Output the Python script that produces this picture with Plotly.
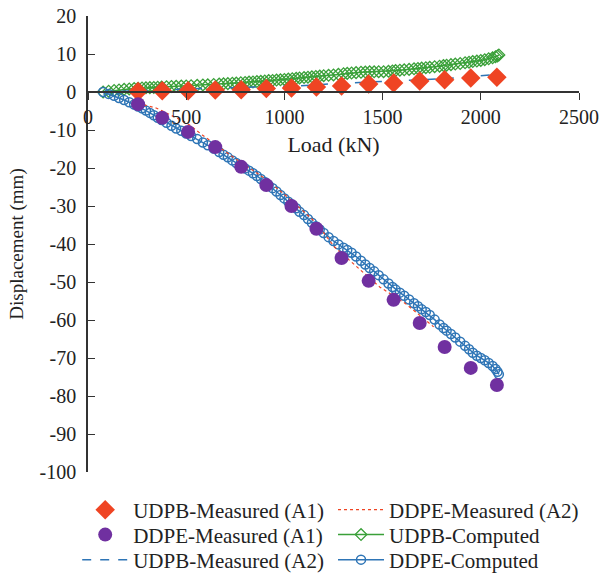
import plotly.graph_objects as go

# ---- data ----
meas_load = [255, 378, 510, 648, 780, 908, 1036, 1163, 1291, 1429, 1556, 1689, 1816, 1949, 2082]
udpb_a1 = [0.1, 0.3, 0.3, 0.5, 0.6, 0.9, 1.05, 1.3, 1.6, 2.1, 2.4, 2.9, 3.2, 3.7, 3.9]
ddpe_a1 = [-3.2, -6.8, -10.5, -14.5, -19.7, -24.5, -30.0, -36.0, -43.7, -49.7, -54.7, -60.8, -67.1, -72.6, -77.1]

udpb_a2_load = [77, 255, 510, 780, 1077, 1291, 1556, 1760, 1816, 2056, 2082]
udpb_a2 = [0.0, 0.4, 0.8, 1.2, 1.6, 2.3, 2.9, 3.2, 3.5, 4.5, 4.6]

ddpe_a2_load = [255, 347, 505, 582, 735, 908, 1036, 1163, 1255, 1357, 1485, 1617, 1760]
ddpe_a2 = [-3.0, -4.2, -8.2, -11.3, -17.0, -23.0, -28.5, -34.5, -40.8, -45.5, -51.3, -55.7, -61.8]

comp_load = [77, 105, 133, 158, 184, 210, 235, 255, 275, 295, 315, 335, 355, 375, 400, 425, 449, 475,
             500, 525, 556, 585, 610, 640, 668, 690, 712, 735, 755, 778, 800, 820, 840, 860, 880, 900,
             920, 940, 960, 980, 1000, 1020, 1040, 1060, 1077, 1100, 1120, 1140, 1160, 1180, 1200,
             1225, 1250, 1275, 1301, 1320, 1342, 1365, 1390, 1412, 1434, 1457, 1480, 1505, 1530,
             1550, 1566, 1588, 1610, 1635, 1660, 1680, 1699, 1720, 1740, 1765, 1790, 1810, 1826,
             1848, 1870, 1895, 1920, 1940, 1959, 1980, 2000, 2020, 2040, 2060, 2075, 2085, 2092]
ddpe_comp = [0.0, -0.5, -1.0, -1.6, -2.1, -2.7, -3.3, -3.8, -4.3, -4.9, -5.5, -6.1, -6.8, -7.4, -8.1,
             -8.9, -9.6, -10.2, -10.9, -11.6, -12.4, -13.3, -14.0, -14.9, -15.8, -16.5, -17.2, -18.0,
             -18.7, -19.4, -20.1, -20.7, -21.4, -22.1, -22.9, -23.7, -24.5, -25.3, -26.2, -27.1, -28.0,
             -28.9, -29.7, -30.6, -31.5, -32.4, -33.4, -34.4, -35.3, -36.2, -37.1, -38.2, -39.2, -40.1,
             -41.0, -41.6, -42.3, -43.3, -44.4, -45.4, -46.3, -47.2, -48.2, -49.3, -50.4, -51.3, -52.0,
             -52.8, -53.6, -54.6, -55.6, -56.4, -57.2, -57.9, -58.7, -59.9, -61.2, -62.1, -62.8, -63.7,
             -64.6, -65.7, -66.8, -67.7, -68.6, -69.4, -70.0, -70.6, -71.3, -72.1, -72.9, -73.6, -74.3]
udpb_comp = [0.0, 0.2, 0.4, 0.55, 0.7, 0.8, 0.9, 1.0, 1.05, 1.1, 1.15, 1.2, 1.25, 1.3, 1.4, 1.45, 1.5,
             1.55, 1.6, 1.65, 1.75, 1.85, 1.9, 2.0, 2.1, 2.15, 2.2, 2.3, 2.35, 2.45, 2.5, 2.6, 2.65,
             2.75, 2.8, 2.9, 3.0, 3.05, 3.15, 3.2, 3.3, 3.4, 3.5, 3.6, 3.7, 3.8, 3.9, 4.0, 4.1, 4.2,
             4.3, 4.4, 4.5, 4.65, 4.8, 4.9, 5.0, 5.1, 5.2, 5.25, 5.3, 5.32, 5.34, 5.35, 5.45, 5.55,
             5.65, 5.75, 5.85, 5.95, 6.1, 6.2, 6.3, 6.4, 6.5, 6.65, 6.8, 6.95, 7.05, 7.2, 7.35, 7.5,
             7.7, 7.85, 8.0, 8.15, 8.3, 8.5, 8.75, 9.0, 9.3, 9.5, 9.75]

x_ticks = [0, 500, 1000, 1500, 2000, 2500]
x_labels = ["0", "500", "1000", "1500", "2000", "2500"]
y_ticks = [20, 10, 0, -10, -20, -30, -40, -50, -60, -70, -80, -90, -100]
y_labels = ["20", "10", "0", "-10", "-20", "-30", "-40", "-50", "-60", "-70", "-80", "-90", "-100"]

RED = "#EF4423"
PURPLE = "#7030A0"
BLUE = "#2E75B6"
GREEN = "#3AA039"
FONT = "Liberation Serif"
TXT = "#222222"

fig = go.Figure()
fig.add_trace(go.Scatter(x=comp_load, y=udpb_comp, mode="lines+markers", name="UDPB-Computed",
                         line=dict(color=GREEN, width=1.5),
                         marker=dict(symbol="diamond-open", size=9, color=GREEN, line=dict(width=1.3)),
                         legend="legend5"))
fig.add_trace(go.Scatter(x=comp_load, y=ddpe_comp, mode="lines+markers", name="DDPE-Computed",
                         line=dict(color=BLUE, width=1.5),
                         marker=dict(symbol="circle-open", size=9, color=BLUE, line=dict(width=1.5)),
                         legend="legend6"))
fig.add_trace(go.Scatter(x=udpb_a2_load, y=udpb_a2, mode="lines", name="UDPB-Measured (A2)",
                         line=dict(color=BLUE, width=1.5, dash="dash"), legend="legend3"))
fig.add_trace(go.Scatter(x=ddpe_a2_load, y=ddpe_a2, mode="lines", name="DDPE-Measured (A2)",
                         line=dict(color=RED, width=1.2, dash="dot"), legend="legend4"))
fig.add_trace(go.Scatter(x=meas_load, y=udpb_a1, mode="markers", name="UDPB-Measured (A1)",
                         marker=dict(symbol="diamond", size=15, color=RED), legend="legend"))
fig.add_trace(go.Scatter(x=meas_load, y=ddpe_a1, mode="markers", name="DDPE-Measured (A1)",
                         marker=dict(symbol="circle", size=14, color=PURPLE), legend="legend2"))


def leg(x, y):
    return dict(orientation="v", xanchor="left", yanchor="middle", x=x, y=y,
                itemwidth=46, bgcolor="rgba(0,0,0,0)", borderwidth=0,
                font=dict(family=FONT, size=21, color=TXT))


col1, col2 = -0.022, 0.499
row1, row2, row3 = -0.0833, -0.138, -0.193

fig.update_layout(
    width=600, height=578,
    margin=dict(l=88, r=21, t=16, b=106, autoexpand=False),
    paper_bgcolor="white", plot_bgcolor="white",
    font=dict(family=FONT, size=20, color=TXT),
    showlegend=True,
    legend=leg(col1, row1), legend2=leg(col1, row2), legend3=leg(col1, row3),
    legend4=leg(col2, row1), legend5=leg(col2, row2), legend6=leg(col2, row3),
    xaxis=dict(range=[0, 2500], tickvals=x_ticks, ticktext=x_labels, ticks="outside", ticklen=7,
               tickwidth=1.3, tickcolor="#333", showline=True, linecolor="#333", linewidth=1.5,
               showgrid=False, zeroline=False, anchor="free", position=100/120, side="bottom",
               title=dict(text="Load (kN)", standoff=9, font=dict(size=22)),
               tickfont=dict(size=20)),
    yaxis=dict(range=[-100, 20], tickvals=y_ticks, ticktext=y_labels, ticks="inside", ticklen=7,
               tickwidth=1.3, tickcolor="#333", showline=True, linecolor="#333", linewidth=1.5,
               showgrid=False, zeroline=False, ticklabelstandoff=6,
               title=dict(text="Displacement (mm)", standoff=11, font=dict(size=19)),
               tickfont=dict(size=20)),
)

fig.write_html("out.html")
